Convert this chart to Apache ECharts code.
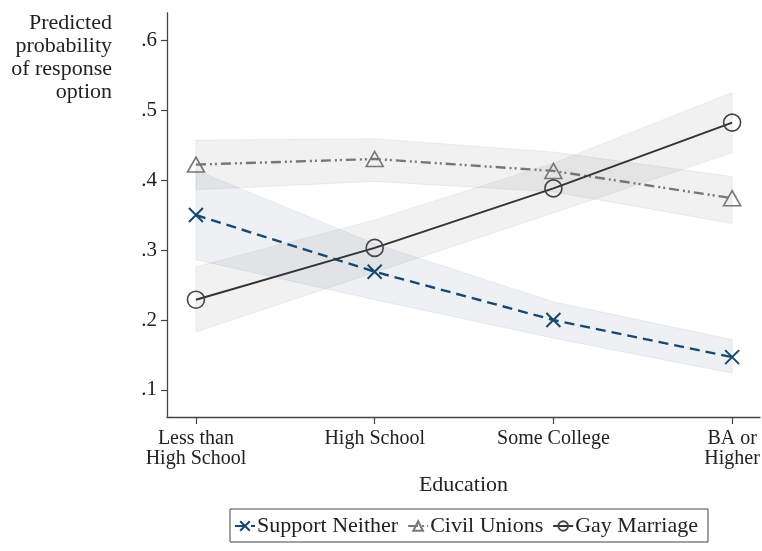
<!DOCTYPE html>
<html>
<head>
<meta charset="utf-8">
<script src="https://cdn.jsdelivr.net/npm/echarts@6/dist/echarts.min.js"></script>
<style>
  html, body { margin: 0; padding: 0; background: #fff; }
  #chart { width: 762px; height: 551px; }
</style>
</head>
<body>
<div id="chart"></div>
<script>
// Education levels (x positions 0..3)
const categories = ['Less than\nHigh School', 'High School', 'Some College', 'BA or\nHigher'];
const yTicks = [0.1, 0.2, 0.3, 0.4, 0.5, 0.6];

// Predicted probabilities with 95% confidence bounds
const neither    = [0.350, 0.269, 0.200, 0.147];
const neitherLo  = [0.286, 0.229, 0.174, 0.124];
const neitherHi  = [0.414, 0.309, 0.226, 0.172];

const civil      = [0.422, 0.430, 0.413, 0.374];
const civilLo    = [0.386, 0.398, 0.383, 0.338];
const civilHi    = [0.457, 0.459, 0.440, 0.405];

const marriage   = [0.229, 0.303, 0.388, 0.482];
const marriageLo = [0.183, 0.268, 0.353, 0.439];
const marriageHi = [0.276, 0.343, 0.424, 0.525];

const FONT = 'Liberation Serif';
const NAVY = '#1a476f';

const pts = arr => arr.map((v, i) => [i, v]);

// Confidence band drawn as one polygon: upper bound left to right, lower bound back
function band(lo, hi, fill, edge) {
  return {
    type: 'custom',
    silent: true,
    z: 1,
    data: lo.map((v, i) => [i, v, hi[i]]),
    encode: { x: 0, y: [1, 2] },
    renderItem: function (params, api) {
      if (params.dataIndex !== 0) return null;
      const upper = hi.map((v, i) => api.coord([i, v]));
      const lower = lo.map((v, i) => api.coord([i, v])).reverse();
      return {
        type: 'polygon',
        shape: { points: upper.concat(lower) },
        style: { fill: fill, stroke: edge, lineWidth: 1 }
      };
    }
  };
}

const chart = echarts.init(document.getElementById('chart'));

chart.setOption({
  animation: false,
  backgroundColor: '#fff',
  textStyle: { fontFamily: FONT },
  grid: { left: 167, right: 2, top: 13, bottom: 134, outerBoundsMode: 'none' },
  xAxis: {
    type: 'value',
    min: -0.162, max: 3.156,
    name: 'Education',
    nameLocation: 'middle',
    nameGap: 57,
    nameTextStyle: { fontFamily: FONT, fontSize: 22, color: '#222' },
    splitLine: { show: false },
    axisLine: { onZero: false, lineStyle: { color: '#444', width: 1.3 } },
    axisTick: { customValues: [0, 1, 2, 3], length: 7, lineStyle: { color: '#444', width: 1.2 } },
    axisLabel: {
      customValues: [0, 1, 2, 3],
      formatter: v => categories[Math.round(v)],
      fontFamily: FONT, fontSize: 20, color: '#222',
      lineHeight: 20, margin: 12
    }
  },
  yAxis: {
    type: 'value',
    min: 0.0614, max: 0.6386,
    splitLine: { show: false },
    axisLine: { show: true, onZero: false, lineStyle: { color: '#444', width: 1.3 } },
    axisTick: { show: true, customValues: yTicks, length: 6, lineStyle: { color: '#444', width: 1.2 } },
    axisLabel: {
      customValues: yTicks,
      formatter: v => v.toFixed(1).replace(/^0/, ''),
      fontFamily: FONT, fontSize: 21, color: '#222', margin: 10
    }
  },
  legend: {
    data: ['Support Neither', 'Civil Unions', 'Gay Marriage'],
    left: 230, top: 509,
    borderColor: '#444', borderWidth: 1,
    padding: [6, 10, 5, 4],
    itemGap: 9, itemWidth: 20, itemHeight: 12,
    textStyle: { fontFamily: FONT, fontSize: 22, color: '#222', padding: [0, 0, 0, -3] }
  },
  graphic: [{
    type: 'text', x: 112, y: 12,
    style: {
      text: 'Predicted\nprobability\nof response\noption',
      align: 'right', verticalAlign: 'top',
      font: '22px "Liberation Serif"', lineHeight: 23, fill: '#222'
    }
  }],
  series: [
    band(civilLo, civilHi, 'rgba(120,120,120,0.10)', 'rgba(120,120,120,0.10)'),
    band(marriageLo, marriageHi, 'rgba(120,120,120,0.10)', 'rgba(120,120,120,0.10)'),
    band(neitherLo, neitherHi, 'rgba(26,71,111,0.08)', 'rgba(26,71,111,0.08)'),
    {
      type: 'line', name: 'Support Neither', data: pts(neither), z: 5,
      symbol: 'path://M0,0L10,10M10,0L0,10', symbolSize: 14,
      itemStyle: { color: NAVY, borderColor: NAVY, borderWidth: 2 },
      lineStyle: { color: NAVY, width: 2.4, type: [10, 6] }
    },
    {
      type: 'line', name: 'Civil Unions', data: pts(civil), z: 5,
      symbol: 'triangle', symbolSize: [17, 15],
      itemStyle: { color: 'rgba(0,0,0,0)', borderColor: '#777', borderWidth: 1.6 },
      lineStyle: { color: '#777', width: 2.4, type: [10, 4, 2, 3, 2, 4] }
    },
    {
      type: 'line', name: 'Gay Marriage', data: pts(marriage), z: 5,
      symbol: 'circle', symbolSize: 17,
      itemStyle: { color: 'rgba(0,0,0,0)', borderColor: '#444', borderWidth: 1.6 },
      lineStyle: { color: '#333', width: 2 }
    }
  ]
});
</script>
</body>
</html>
